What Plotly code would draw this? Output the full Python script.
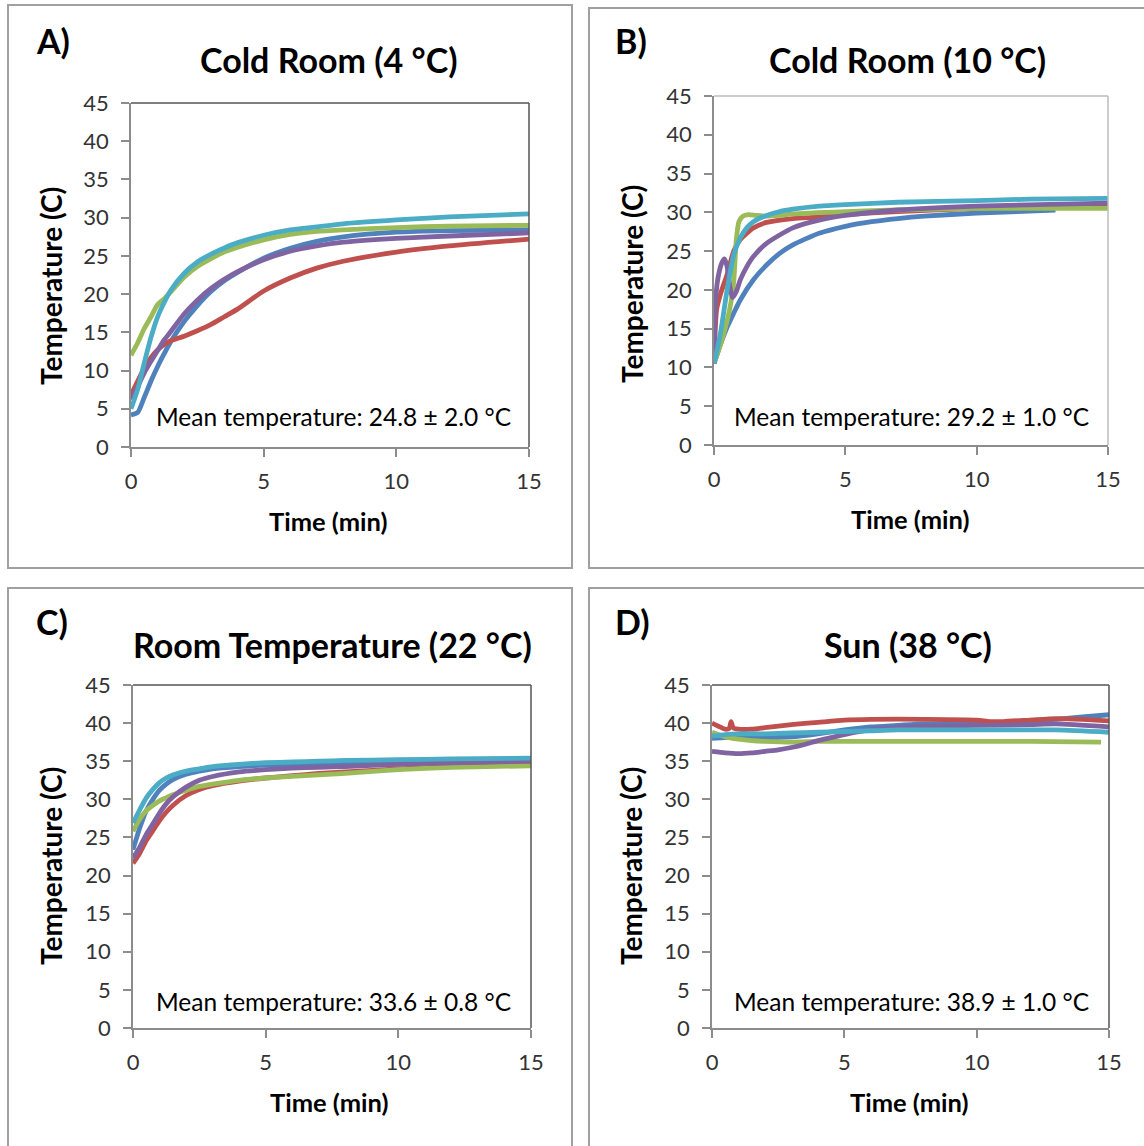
import plotly.graph_objects as go

W, H = 1144, 1146

# ---------------- data ----------------
# Panel A: Cold Room (4 °C)
tA = [0, 0.25, 0.5, 0.75, 1, 1.25, 1.5, 2, 2.5, 3, 3.5, 4, 5, 6, 7, 8, 10, 12, 15]
A_blue   = [4.2, 4.5, 6.5, 8.6, 10.5, 12.2, 13.8, 16.4, 18.5, 20.3, 21.7, 22.8, 24.7, 26.0, 26.9, 27.5, 28.1, 28.3, 28.4]
A_red    = [6.8, 8.6, 10.3, 11.7, 12.7, 13.4, 13.9, 14.5, 15.2, 16.0, 17.0, 18.0, 20.4, 22.1, 23.4, 24.3, 25.5, 26.3, 27.2]
A_green  = [12.0, 13.6, 15.5, 17.0, 18.6, 19.4, 20.3, 22.2, 23.6, 24.6, 25.5, 26.1, 27.1, 27.8, 28.2, 28.4, 28.7, 28.9, 29.0]
A_purple = [6.2, 7.9, 9.7, 11.2, 12.6, 14.0, 15.1, 17.4, 19.2, 20.7, 21.9, 22.9, 24.5, 25.6, 26.3, 26.8, 27.3, 27.6, 28.0]
A_cyan   = [5.0, 7.5, 11.0, 14.3, 17.0, 18.9, 20.5, 22.7, 24.2, 25.2, 26.0, 26.7, 27.7, 28.4, 28.8, 29.2, 29.7, 30.1, 30.5]

# Panel B: Cold Room (10 °C)
tB_blue   = [0, 0.1, 0.25, 0.5, 0.75, 1, 1.5, 2, 2.5, 3, 4, 5, 6, 7, 8, 10, 13]
B_blue    = [10.5, 11.5, 13.0, 15.2, 17.0, 18.7, 21.3, 23.2, 24.7, 25.8, 27.3, 28.2, 28.8, 29.2, 29.5, 29.9, 30.3]
tB_red    = [0, 0.05, 0.1, 0.25, 0.5, 0.75, 1, 1.25, 1.5, 2, 3, 4, 5, 7, 10, 12, 15]
B_red     = [10.5, 15.0, 17.5, 19.5, 22.0, 25.0, 26.5, 27.3, 28.0, 28.7, 29.2, 29.4, 29.7, 30.1, 30.5, 30.8, 31.0]
tB_green  = [0, 0.25, 0.5, 0.65, 0.75, 0.85, 0.95, 1.1, 1.3, 1.6, 2, 2.5, 3, 5, 7, 10, 15]
B_green   = [10.5, 13.0, 16.0, 18.5, 21.0, 26.5, 28.8, 29.5, 29.7, 29.6, 29.5, 29.6, 29.8, 30.1, 30.3, 30.5, 30.5]
tB_purple = [0, 0.05, 0.15, 0.3, 0.4, 0.5, 0.6, 0.7, 0.85, 1, 1.25, 1.5, 2, 3, 4, 5, 7, 10, 15]
B_purple  = [10.5, 18.0, 21.5, 23.5, 24.0, 23.0, 20.5, 19.0, 19.8, 21.3, 23.0, 24.3, 26.0, 28.0, 29.0, 29.6, 30.3, 30.8, 31.2]
tB_cyan   = [0, 0.1, 0.25, 0.5, 0.75, 1, 1.25, 1.5, 2, 2.5, 3, 4, 5, 7, 10, 12, 15]
B_cyan    = [10.5, 12.0, 14.5, 20.0, 24.5, 26.7, 28.0, 28.8, 29.6, 30.1, 30.4, 30.8, 31.0, 31.3, 31.5, 31.7, 31.8]

# Panel C: Room Temperature (22 °C)
tC = [0, 0.25, 0.5, 0.75, 1, 1.25, 1.5, 2, 2.5, 3, 4, 5, 6, 7, 8, 10, 12, 15]
C_blue   = [23.4, 26.2, 28.5, 30.0, 31.2, 32.0, 32.6, 33.3, 33.7, 34.0, 34.3, 34.5, 34.6, 34.7, 34.8, 35.0, 35.1, 35.3]
C_red    = [21.6, 22.9, 24.6, 25.9, 27.2, 28.3, 29.2, 30.5, 31.3, 31.8, 32.4, 32.8, 33.1, 33.4, 33.6, 34.0, 34.3, 34.6]
C_green  = [25.8, 27.4, 28.5, 29.2, 29.8, 30.2, 30.6, 31.2, 31.7, 32.0, 32.5, 32.8, 33.0, 33.2, 33.4, 33.9, 34.2, 34.4]
C_purple = [22.3, 23.7, 25.4, 26.8, 28.2, 29.4, 30.3, 31.6, 32.5, 33.0, 33.6, 33.9, 34.1, 34.2, 34.3, 34.6, 34.8, 35.0]
C_cyan   = [26.9, 28.6, 30.2, 31.3, 32.2, 32.8, 33.2, 33.7, 34.0, 34.3, 34.6, 34.8, 34.9, 35.0, 35.1, 35.2, 35.3, 35.4]

# Panel D: Sun (38 °C)
tD_blue   = [0, 0.5, 1, 2, 3, 4, 5, 6, 7, 8, 10, 11, 12, 13, 14, 15]
D_blue    = [38.0, 38.1, 38.2, 38.1, 38.2, 38.6, 39.1, 39.5, 39.7, 39.9, 39.9, 40.0, 40.3, 40.5, 40.8, 41.1]
tD_red    = [0, 0.3, 0.5, 0.65, 0.72, 0.8, 1, 1.5, 2, 3, 4, 5, 6, 8, 10, 10.5, 11, 12, 13, 14, 15]
D_red     = [40.0, 39.5, 39.2, 39.3, 40.2, 39.4, 39.2, 39.2, 39.4, 39.8, 40.1, 40.4, 40.5, 40.5, 40.4, 40.2, 40.2, 40.4, 40.6, 40.5, 40.3]
tD_green  = [0, 0.5, 1, 1.5, 2, 3, 4, 5, 7, 10, 12, 14.7]
D_green   = [38.8, 38.2, 37.9, 37.7, 37.6, 37.5, 37.6, 37.6, 37.6, 37.6, 37.6, 37.5]
tD_purple = [0, 0.5, 1, 1.5, 2, 2.5, 3, 3.5, 4, 4.5, 5, 6, 7, 8, 10, 12, 13, 15]
D_purple  = [36.3, 36.1, 36.0, 36.1, 36.3, 36.5, 36.8, 37.2, 37.7, 38.1, 38.5, 39.1, 39.4, 39.6, 39.7, 39.8, 39.9, 39.5]
tD_cyan   = [0, 0.5, 1, 2, 3, 4, 5, 6, 7, 10, 13, 15]
D_cyan    = [38.3, 38.5, 38.6, 38.6, 38.7, 38.8, 38.9, 39.0, 39.1, 39.1, 39.1, 38.8]

panel_labels = ["A)", "B)", "C)", "D)"]
titles = ["Cold Room (4 °C)", "Cold Room (10 °C)", "Room Temperature (22 °C)", "Sun (38 °C)"]
means = ["Mean temperature: 24.8 ± 2.0 °C", "Mean temperature: 29.2 ± 1.0 °C",
         "Mean temperature: 33.6 ± 0.8 °C", "Mean temperature: 38.9 ± 1.0 °C"]
x_ticks = [0, 5, 10, 15]
y_ticks = [0, 5, 10, 15, 20, 25, 30, 35, 40, 45]

COL = {"blue": "#4F81BD", "red": "#C0504D", "green": "#9BBB59", "purple": "#8064A2", "cyan": "#4BACC6"}

panels = [
    [("blue", tA, A_blue), ("red", tA, A_red), ("green", tA, A_green), ("purple", tA, A_purple), ("cyan", tA, A_cyan)],
    [("blue", tB_blue, B_blue), ("red", tB_red, B_red), ("green", tB_green, B_green), ("purple", tB_purple, B_purple), ("cyan", tB_cyan, B_cyan)],
    [("blue", tC, C_blue), ("red", tC, C_red), ("green", tC, C_green), ("purple", tC, C_purple), ("cyan", tC, C_cyan)],
    [("blue", tD_blue, D_blue), ("red", tD_red, D_red), ("green", tD_green, D_green), ("purple", tD_purple, D_purple), ("cyan", tD_cyan, D_cyan)],
]

# ---------------- layout geometry (pixels) ----------------
plot_px = [  # x0, x1, ytop, ybottom
    (131, 529, 103, 447),
    (714, 1108, 96, 445),
    (133, 531, 685, 1028),
    (712, 1109, 685, 1028),
]
frames = [(8, 572, 5, 568), (589, 1150, 8, 568), (8, 572, 588, 1150), (589, 1150, 588, 1150)]
label_pos = [(34, 41), (613, 41), (34, 621), (613, 621)]
title_pos = [(328, 60), (907, 60), (332, 644), (908, 644)]
ytitle_pos = [(51, 286), (632, 284), (51, 866), (631, 866)]
xtitle_pos = [(328, 521), (910, 519), (330, 1102), (909, 1102)]
mean_pos = [(333, 416), (911, 416), (333, 1001), (911, 1001)]
border_col = ["#555555", "#BBBBBB", "#555555", "#555555"]

def fx(x):
    return x / W

def fy(y):
    return 1 - y / H

FONT = "Lato, 'Open Sans', sans-serif"

fig = go.Figure()
layout = dict(width=W, height=H, margin=dict(l=0, r=0, t=0, b=0, pad=0), autosize=False,
              paper_bgcolor="white", plot_bgcolor="white", showlegend=False)
annotations = []
shapes = []

for i, series in enumerate(panels):
    n = "" if i == 0 else str(i + 1)
    xa, ya = "x" + n, "y" + n
    for name, t, v in series:
        fig.add_trace(go.Scatter(x=t, y=v, mode="lines", xaxis=xa, yaxis=ya,
                                 line=dict(color=COL[name], width=4.8, shape="spline", smoothing=0.6),
                                 hoverinfo="skip"))
    x0, x1, yt, yb = plot_px[i]
    common = dict(showgrid=False, zeroline=False, showline=True, linecolor="#8C8C8C", linewidth=1.5,
                  ticks="outside", ticklen=8, tickcolor="#8C8C8C", tickwidth=1.5,
                  tickfont=dict(family=FONT, size=22, color="#333333"),
                  fixedrange=True, automargin=False)
    layout["xaxis" + n] = dict(domain=[fx(x0), fx(x1)], range=[0, 15], tickvals=x_ticks,
                               anchor=ya, ticklabelstandoff=6, **common)
    layout["yaxis" + n] = dict(domain=[fy(yb), fy(yt)], range=[0, 45], tickvals=y_ticks,
                               anchor=xa, ticklabelstandoff=8, **common)
    # plot-area top/right border
    shapes.append(dict(type="line", xref="paper", yref="paper", x0=fx(x0), x1=fx(x1), y0=fy(yt), y1=fy(yt),
                       line=dict(color=border_col[i], width=1.5)))
    shapes.append(dict(type="line", xref="paper", yref="paper", x0=fx(x1), x1=fx(x1), y0=fy(yt), y1=fy(yb),
                       line=dict(color=border_col[i], width=1.5)))
    # outer panel frame
    a, b, c, d = frames[i]
    shapes.append(dict(type="rect", xref="paper", yref="paper", x0=fx(a), x1=fx(b), y0=fy(d), y1=fy(c),
                       line=dict(color="#A0A0A0", width=2), fillcolor="rgba(0,0,0,0)", layer="below"))
    # texts
    lx, ly = label_pos[i]
    annotations.append(dict(text="<b>%s</b>" % panel_labels[i], x=fx(lx), y=fy(ly), xref="paper", yref="paper",
                            xanchor="left", yanchor="middle", showarrow=False,
                            font=dict(family=FONT, size=34, color="black")))
    tx, ty = title_pos[i]
    annotations.append(dict(text="<b>%s</b>" % titles[i], x=fx(tx), y=fy(ty), xref="paper", yref="paper",
                            xanchor="center", yanchor="middle", showarrow=False,
                            font=dict(family=FONT, size=34, color="black")))
    yx, yy = ytitle_pos[i]
    annotations.append(dict(text="<b>Temperature (C)</b>", x=fx(yx), y=fy(yy), xref="paper", yref="paper",
                            xanchor="center", yanchor="middle", showarrow=False, textangle=-90,
                            font=dict(family=FONT, size=28, color="black")))
    xx, xy = xtitle_pos[i]
    annotations.append(dict(text="<b>Time (min)</b>", x=fx(xx), y=fy(xy), xref="paper", yref="paper",
                            xanchor="center", yanchor="middle", showarrow=False,
                            font=dict(family=FONT, size=25.5, color="black")))
    mx, my = mean_pos[i]
    annotations.append(dict(text=means[i], x=fx(mx), y=fy(my), xref="paper", yref="paper",
                            xanchor="center", yanchor="middle", showarrow=False,
                            font=dict(family=FONT, size=24.5, color="black")))

layout["annotations"] = annotations
layout["shapes"] = shapes
fig.update_layout(**layout)
fig.write_html("out.html", config={"displayModeBar": False},
               post_script="document.body.style.margin='0';document.body.style.padding='0';"
                           "document.documentElement.style.overflow='hidden';")
